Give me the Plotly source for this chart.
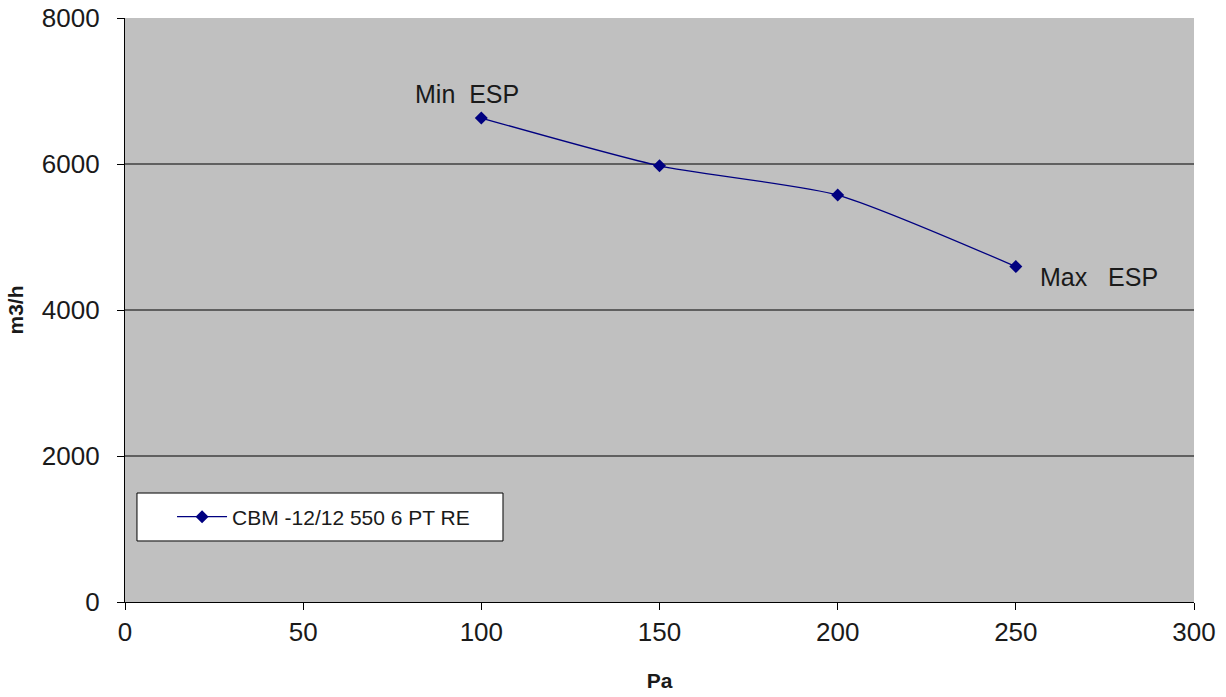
import plotly.graph_objects as go

pressure_pa = [100, 150, 200, 250]
airflow_m3h = [6630, 5975, 5575, 4595]
series_name = "CBM -12/12 550 6 PT RE"
point_labels = ["Min  ESP", "", "", "Max   ESP"]
y_ticks = [0, 2000, 4000, 6000, 8000]
x_ticks = [0, 50, 100, 150, 200, 250, 300]

FONT = "Liberation Sans, Arial, sans-serif"

fig = go.Figure()
fig.add_trace(go.Scatter(
    x=pressure_pa, y=airflow_m3h, name=series_name,
    mode="lines+markers",
    line=dict(color="#000080", width=1.3, shape="spline", smoothing=0.6),
    marker=dict(symbol="diamond", size=10, color="#000080"),
))

# horizontal gridlines (excluding top and bottom edges)
for v in y_ticks[1:-1]:
    fig.add_shape(type="line", xref="paper", x0=0, x1=1, yref="y", y0=v, y1=v,
                  line=dict(color="black", width=1.1), layer="below")

# legend box
fig.add_shape(type="rect", xref="paper", yref="paper",
              x0=0.0112, x1=0.3536, y0=0.1045, y1=0.1866,
              line=dict(color="black", width=1), fillcolor="white", layer="below")

# point annotations
fig.add_annotation(x=pressure_pa[0], y=airflow_m3h[0], text=point_labels[0],
                   showarrow=False, xanchor="center", yanchor="bottom",
                   xshift=-14, yshift=8,
                   font=dict(family=FONT, size=25, color="#1a1a1a"))
fig.add_annotation(x=pressure_pa[3], y=airflow_m3h[3], text=point_labels[3],
                   showarrow=False, xanchor="left", yanchor="middle",
                   xshift=22, yshift=-10,
                   font=dict(family=FONT, size=25, color="#1a1a1a"))

fig.update_layout(
    width=1226, height=697,
    margin=dict(l=125, r=32, t=18, b=95),
    paper_bgcolor="white",
    plot_bgcolor="#C0C0C0",
    font=dict(family=FONT, color="#1a1a1a"),
    showlegend=True,
    legend=dict(
        x=0.044, y=0.1455, xanchor="left", yanchor="middle",
        bgcolor="rgba(0,0,0,0)", borderwidth=0,
        font=dict(family=FONT, size=21, color="#1a1a1a"),
        itemwidth=50,
    ),
    xaxis=dict(
        range=[0, 300], tickvals=x_ticks, showgrid=False, zeroline=False,
        showline=True, linecolor="black", linewidth=1.2,
        ticks="outside", ticklen=7, tickcolor="black", automargin=False,
        ticklabeloverflow="allow",
        tickfont=dict(family=FONT, size=26, color="#1a1a1a"),
        title=dict(text="<b>Pa</b>", font=dict(family=FONT, size=21), standoff=27),
    ),
    yaxis=dict(
        range=[0, 8000], tickvals=y_ticks, showgrid=False, zeroline=False,
        showline=True, linecolor="black", linewidth=1.2,
        ticks="outside", ticklen=7, tickcolor="black", automargin=False,
        ticklabeloverflow="allow", ticklabelstandoff=12,
        tickfont=dict(family=FONT, size=26, color="#1a1a1a"),
        title=dict(text="<b>m3/h</b>", font=dict(family=FONT, size=21), standoff=12),
    ),
)

fig.write_html("out.html",
               config={"displayModeBar": False},
               post_script="document.body.style.margin='0';document.body.style.overflow='hidden';")
